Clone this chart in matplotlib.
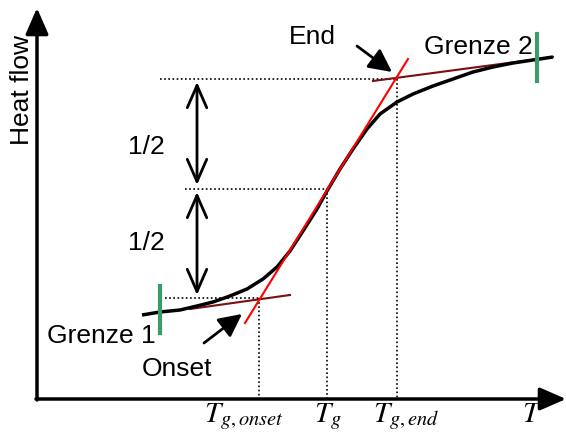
import numpy as np
import matplotlib.pyplot as plt

plt.rcParams['font.family'] = ['Liberation Sans', 'DejaVu Sans']
plt.rcParams['mathtext.fontset'] = 'stix'

# DSC-Kurve (Schema), Temperatur T gegen Wärmestrom
T_kurve = [142, 160, 180, 197, 213, 230, 247, 263, 277, 290, 303, 317, 327,
           340, 353, 367, 380, 397, 413, 433, 453, 473, 493, 513, 533, 553]
H_kurve = [119, 122, 124, 128, 132, 138, 145, 155, 167, 183, 203, 225, 243,
           265, 285, 305, 320, 332, 340, 348, 355, 362, 367, 371, 374, 377]

# Wendetangente und Basislinien
tangente_T = [245, 408]
tangente_H = [111, 375]
basis1_T = [190, 290]
basis1_H = [125, 139]
basis2_T = [373, 553]
basis2_H = [353, 377]

# charakteristische Punkte
T_onset, H_onset = 259, 136
T_g, H_g = 327, 245
T_end, H_end = 397, 355

# Grenzen der Auswertung
grenze1_T, grenze1_H = 160, [101, 148]
grenze2_T, grenze2_H = 537, [353, 400]

x0, y0 = 37, 35

fig = plt.figure(figsize=(5.66, 4.35), dpi=100)
ax = fig.add_axes([0, 0, 1, 1])
ax.set_xlim(0, 566)
ax.set_ylim(0, 435)
ax.axis('off')

# Achsen mit Pfeilen
ax.annotate('', xy=(566, y0), xytext=(x0 - 1, y0),
            arrowprops=dict(arrowstyle='-|>,head_length=0.8,head_width=0.35',
                            lw=2.5, color='black', mutation_scale=20,
                            shrinkA=0, shrinkB=0))
ax.annotate('', xy=(x0, 426), xytext=(x0, y0 - 1),
            arrowprops=dict(arrowstyle='-|>,head_length=0.8,head_width=0.35',
                            lw=2.5, color='black', mutation_scale=20,
                            shrinkA=0, shrinkB=0))

# Hilfslinien (gepunktet)
dot = dict(color='black', ls=(0, (1, 1.5)), lw=1.2)
ax.plot([160, T_end], [H_end, H_end], **dot)
ax.plot([185, T_g], [H_g, H_g], **dot)
ax.plot([165, T_onset], [H_onset, H_onset], **dot)
ax.plot([T_onset, T_onset], [H_onset, y0], **dot)
ax.plot([T_g, T_g], [H_g, y0], **dot)
ax.plot([T_end, T_end], [H_end, y0], **dot)

# Kurve, Tangenten
ax.plot(basis1_T, basis1_H, color='#7a0f0f', lw=1.5)
ax.plot(basis2_T, basis2_H, color='#7a0f0f', lw=1.5)
ax.plot(T_kurve, H_kurve, color='black', lw=2.5, solid_joinstyle='round',
        solid_capstyle='butt')
ax.plot(tangente_T, tangente_H, color='red', lw=1.5)

# Grenzen
ax.plot([grenze1_T, grenze1_T], grenze1_H, color='#3a9c6c', lw=3)
ax.plot([grenze2_T, grenze2_T], grenze2_H, color='#3a9c6c', lw=3)

# Doppelpfeile 1/2
dpfeil = dict(arrowstyle='<->,head_length=0.8,head_width=0.35', lw=2,
              color='black', mutation_scale=20, shrinkA=0, shrinkB=0)
ax.annotate('', xy=(197, 352), xytext=(197, 249), arrowprops=dpfeil)
ax.annotate('', xy=(197, 242), xytext=(197, 139), arrowprops=dpfeil)
ax.text(146, 288, '1/2', fontsize=19, ha='center', va='center')
ax.text(146, 192, '1/2', fontsize=19, ha='center', va='center')

# Beschriftungen
pfeil = dict(arrowstyle='-|>,head_length=0.7,head_width=0.35', lw=2,
             color='black', mutation_scale=20, shrinkA=0, shrinkB=0)
ax.annotate('', xy=(392, 362), xytext=(357, 388), arrowprops=pfeil)
ax.annotate('', xy=(242, 120), xytext=(204, 91), arrowprops=pfeil)
ax.text(312, 398, 'End', fontsize=19, ha='center', va='center')
ax.text(177, 66, 'Onset', fontsize=19, ha='center', va='center')
ax.text(101, 99, 'Grenze 1', fontsize=19, ha='center', va='center')
ax.text(478, 388, 'Grenze 2', fontsize=19, ha='center', va='center')
ax.text(22, 345, 'Heat flow', fontsize=19, rotation=90, ha='center', va='center')

ax.text(244, 13, r'$T_{g,onset}$', fontsize=21, ha='center', va='baseline')
ax.text(328, 13, r'$T_g$', fontsize=21, ha='center', va='baseline')
ax.text(406, 13, r'$T_{g,end}$', fontsize=21, ha='center', va='baseline')
ax.text(532, 13, r'$T$', fontsize=21, ha='center', va='baseline')

fig.savefig('out.png', dpi=100)
